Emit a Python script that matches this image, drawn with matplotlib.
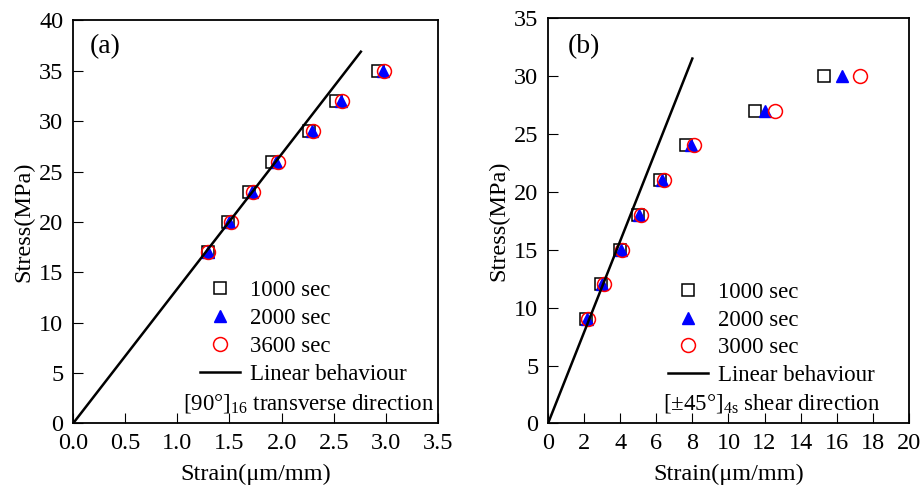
import matplotlib.pyplot as plt

plt.rcParams['font.family'] = 'Liberation Serif'
plt.rcParams['mathtext.fontset'] = 'custom'
plt.rcParams['mathtext.rm'] = 'Liberation Serif'
plt.rcParams['mathtext.it'] = 'Liberation Serif'

# (a) [90]16 transverse
stress_a = [17, 20, 23, 26, 29, 32, 35]
strain_a_1000 = [1.29, 1.49, 1.69, 1.91, 2.26, 2.52, 2.92]
strain_a_2000 = [1.29, 1.50, 1.72, 1.95, 2.29, 2.57, 2.97]
strain_a_3600 = [1.29, 1.51, 1.73, 1.97, 2.30, 2.58, 2.98]
lin_a_x = [0, 2.76]
lin_a_y = [0, 36.9]

# (b) [+-45]4s shear
stress_b = [9, 12, 15, 18, 21, 24, 27, 30]
strain_b_1000 = [2.1, 2.94, 4.0, 5.0, 6.2, 7.67, 11.45, 15.3]
strain_b_2000 = [2.16, 3.0, 4.03, 5.05, 6.3, 7.94, 12.0, 16.3]
strain_b_3000 = [2.2, 3.09, 4.1, 5.17, 6.43, 8.1, 12.6, 17.3]
lin_b_x = [0, 8.0]
lin_b_y = [0, 31.5]

fig = plt.figure(figsize=(9.23, 4.93), dpi=100)
ax1 = fig.add_axes([0.0791, 0.141, 0.3955, 0.8175])
ax2 = fig.add_axes([0.5937, 0.141, 0.391, 0.8225])

fs = 17.5
lfs = 16.5

def draw(ax, x1, x2, x3, y, lx, ly, labels, anchor):
    ax.plot(x1, y, 's', ms=9, mfc='none', mec='black', mew=1.1, label=labels[0])
    ax.plot(x2, y, '^', ms=9, color='blue', label=labels[1])
    ax.plot(x3, y, 'o', ms=10, mfc='none', mec='red', mew=1.1, label=labels[2])
    ax.plot(lx, ly, '-', color='black', lw=1.8, label='Linear behaviour')
    ax.set_xlabel('Strain(μm/mm)', fontsize=fs, labelpad=7)
    ax.set_ylabel('Stress(MPa)', fontsize=fs, labelpad=3)
    ax.tick_params(direction='in', length=7, labelsize=fs, top=False, right=False)
    ax.tick_params(axis='x', pad=7)
    ax.tick_params(axis='y', pad=7)
    for s in ax.spines.values():
        s.set_linewidth(1.3)
    ax.legend(loc='upper left', bbox_to_anchor=anchor, frameon=False, fontsize=lfs,
              handlelength=1.75, handletextpad=0.45, labelspacing=0.3, borderpad=0,
              borderaxespad=0)

draw(ax1, strain_a_1000, strain_a_2000, strain_a_3600, stress_a, lin_a_x, lin_a_y,
     ['1000 sec', '2000 sec', '3600 sec'], (0.348, 0.355))
ax1.set_xlim(0, 3.5)
ax1.set_ylim(0, 40)
ax1.set_xticks([0, 0.5, 1.0, 1.5, 2.0, 2.5, 3.0, 3.5])
ax1.set_xticklabels(['0.0', '0.5', '1.0', '1.5', '2.0', '2.5', '3.0', '3.5'])
ax1.set_yticks(range(0, 41, 5))
ax1.text(0.045, 0.965, '(a)', transform=ax1.transAxes, fontsize=20, va='top')
ax1.text(0.99, 0.02, '[90°]$_{16}$ transverse direction', transform=ax1.transAxes,
         fontsize=lfs, ha='right', va='bottom')

draw(ax2, strain_b_1000, strain_b_2000, strain_b_3000, stress_b, lin_b_x, lin_b_y,
     ['1000 sec', '2000 sec', '3000 sec'], (0.332, 0.35))
ax2.set_xlim(0, 20)
ax2.set_ylim(0, 35)
ax2.set_xticks(range(0, 21, 2))
ax2.set_yticks(range(0, 36, 5))
ax2.text(0.055, 0.96, '(b)', transform=ax2.transAxes, fontsize=20, va='top')
ax2.text(0.32, 0.02, '[±45°]$_{4s}$ shear direction', transform=ax2.transAxes,
         fontsize=lfs, ha='left', va='bottom')

fig.savefig('out.png', dpi=100)
